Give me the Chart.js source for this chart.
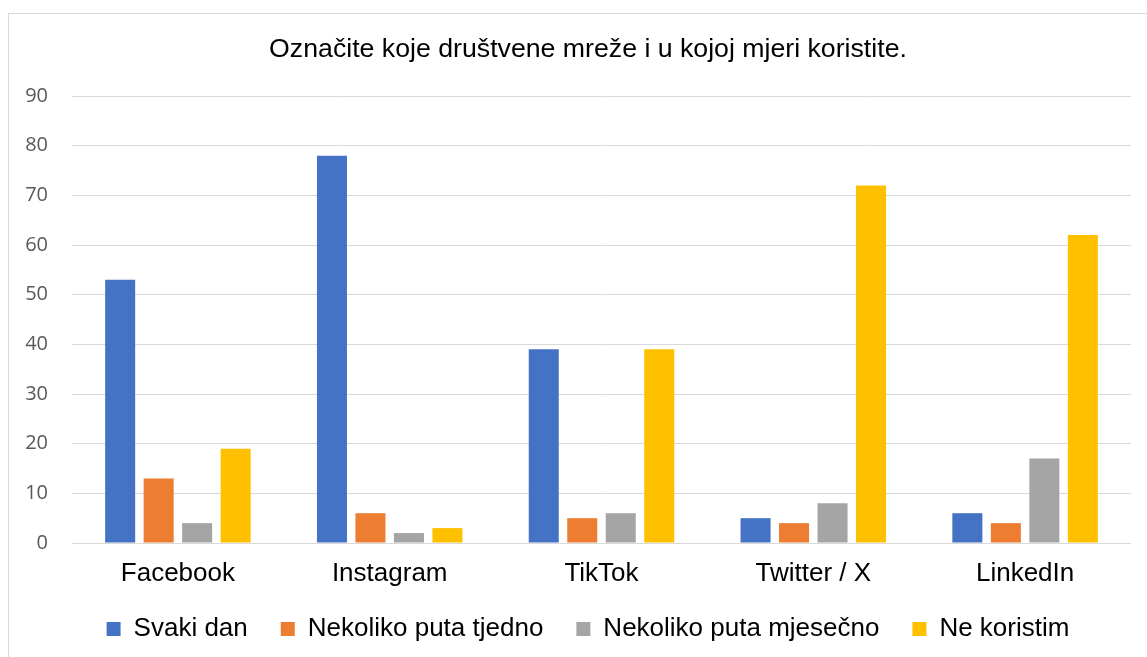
<!DOCTYPE html>
<html>
<head>
<meta charset="utf-8">
<script src="https://cdn.jsdelivr.net/npm/chart.js@4"></script>
<style>
  html, body { margin: 0; padding: 0; background: #ffffff; overflow: hidden; }
  #frame { position: absolute; left: 8px; top: 13px; width: 1200px; height: 700px; border: 1px solid #D9D9D9; box-sizing: border-box; }
  #wrap { position: absolute; left: 0; top: 0; width: 1147px; height: 657px; }
</style>
</head>
<body>
<div id="frame"></div>
<div id="wrap"><canvas id="c" width="1147" height="657"></canvas></div>
<script>
const titleText = 'Označite koje društvene mreže i u kojoj mjeri koristite.';
const categories = ['Facebook', 'Instagram', 'TikTok', 'Twitter / X', 'LinkedIn'];
const seriesNames = ['Svaki dan', 'Nekoliko puta tjedno', 'Nekoliko puta mjesečno', 'Ne koristim'];
const svakiDan = [53, 78, 39, 5, 6];
const nekolikoTjedno = [13, 6, 5, 4, 4];
const nekolikoMjesecno = [4, 2, 6, 8, 17];
const neKoristim = [19, 3, 39, 72, 62];
const yMin = 0, yMax = 90, yStep = 10;
const colors = ['#4472C4', '#ED7D31', '#A5A5A5', '#FFC000'];

const seriesData = [svakiDan, nekolikoTjedno, nekolikoMjesecno, neKoristim];

function noLabelClip(s) { s._computeLabelArea = () => undefined; }

new Chart(document.getElementById('c'), {
  type: 'bar',
  data: {
    labels: categories,
    datasets: seriesNames.map((n, i) => ({
      label: n,
      data: seriesData[i],
      backgroundColor: colors[i],
      borderWidth: 0,
      barPercentage: 0.78,
      categoryPercentage: 0.727
    }))
  },
  options: {
    responsive: false,
    animation: false,
    devicePixelRatio: 1,
    layout: { padding: { left: 45, right: 16, top: 0, bottom: 5 } },
    plugins: {
      title: {
        display: true,
        text: titleText,
        color: '#000000',
        font: { family: 'Liberation Sans, Arial, sans-serif', size: 26.7, weight: 'normal' },
        padding: { top: 34, bottom: 30 }
      },
      legend: {
        position: 'bottom',
        labels: {
          color: '#000000',
          font: { family: 'Liberation Sans, Arial, sans-serif', size: 26 },
          boxWidth: 14,
          boxHeight: 14,
          padding: 33
        }
      },
      tooltip: { enabled: false }
    },
    scales: {
      x: {
        grid: { display: false, drawTicks: false },
        border: { display: false },
        ticks: {
          color: '#000000',
          font: { family: 'Liberation Sans, Arial, sans-serif', size: 26 },
          padding: 15,
          maxRotation: 0
        },
        afterFit: (s) => { s.height = 40; noLabelClip(s); }
      },
      y: {
        min: yMin,
        max: yMax,
        grid: { color: '#D9D9D9', lineWidth: 1, drawTicks: false },
        border: { display: false },
        ticks: {
          stepSize: yStep,
          color: '#595959',
          font: { family: 'Open Sans, sans-serif', size: 20 },
          padding: 24
        },
        afterFit: (s) => { s.width = 27; noLabelClip(s); }
      }
    }
  }
});
</script>
</body>
</html>
